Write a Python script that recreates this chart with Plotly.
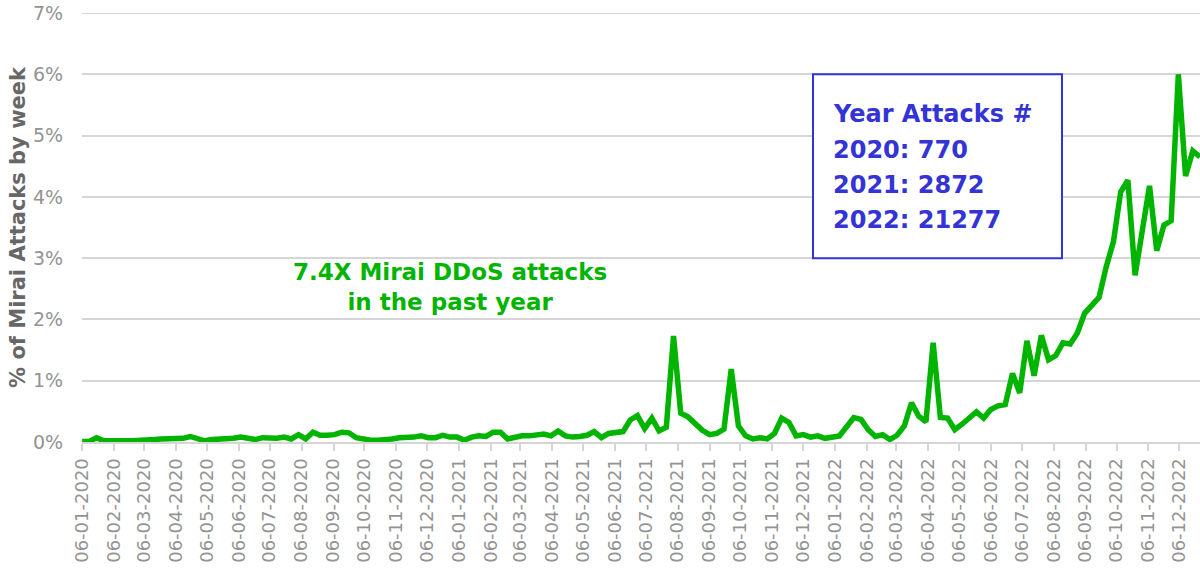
import pandas as pd
import plotly.graph_objects as go

start_date = "2020-01-06"
values = [
    0.01, 0.01, 0.07, 0.02, 0.02, 0.03, 0.02, 0.02, 0.02, 0.02,
    0.04, 0.05, 0.05, 0.05, 0.06, 0.09, 0.05, 0.02, 0.04, 0.04,
    0.06, 0.06, 0.08, 0.07, 0.04, 0.07, 0.06, 0.06, 0.08, 0.05,
    0.12, 0.05, 0.16, 0.11, 0.11, 0.12, 0.16, 0.15, 0.07, 0.04,
    0.03, 0.03, 0.03, 0.05, 0.07, 0.07, 0.08, 0.10, 0.07, 0.07,
    0.11, 0.08, 0.08, 0.03, 0.08, 0.10, 0.09, 0.16, 0.16, 0.05,
    0.08, 0.10, 0.10, 0.11, 0.13, 0.10, 0.18, 0.10, 0.08, 0.09,
    0.11, 0.17, 0.07, 0.14, 0.16, 0.17, 0.36, 0.43, 0.22, 0.39,
    0.18, 0.24, 1.73, 0.47, 0.41, 0.30, 0.19, 0.12, 0.14, 0.21,
    1.19, 0.26, 0.10, 0.05, 0.07, 0.05, 0.14, 0.39, 0.32, 0.10,
    0.12, 0.08, 0.10, 0.06, 0.09, 0.10, 0.25, 0.40, 0.37, 0.20,
    0.09, 0.12, 0.04, 0.11, 0.26, 0.64, 0.42, 0.33, 1.62, 0.40,
    0.39, 0.20, 0.29, 0.39, 0.49, 0.39, 0.53, 0.59, 0.61, 1.12,
    0.80, 1.65, 1.08, 1.74, 1.34, 1.41, 1.62, 1.60, 1.78, 2.10,
    2.23, 2.36, 2.86, 3.27, 4.08, 4.27, 2.72, 3.45, 4.18, 3.12,
    3.54, 3.61, 6.00, 4.34, 4.75, 4.65,
]
weeks = pd.date_range(start_date, periods=len(values), freq="7D")

tick_dates = pd.date_range("2020-01-01", "2022-12-01", freq="MS") + pd.Timedelta(days=5)
tick_labels = [d.strftime("%d-%m-%Y") for d in tick_dates]
y_ticks = [0, 1, 2, 3, 4, 5, 6, 7]
y_labels = [f"{v}%" for v in y_ticks]

annotation_main = "7.4X Mirai DDoS attacks<br>in the past year"
box_lines = ["Year Attacks #", "2020: 770", "2021: 2872", "2022: 21277"]
box_line_y = [5.35, 4.77, 4.19, 3.62]

GREEN = "#00b400"
BLUE = "#3333d6"
GRID = "#d6d6d6"
TICK = "#939393"
FONT = "DejaVu Sans"

# plot area at x 82..1200, y 13..442 (body margin removed below)
L, T, R, B = 82, 13, 0, 129
PW = 1200 - L - R

fig = go.Figure()
fig.add_trace(go.Scatter(
    x=weeks, y=values, mode="lines",
    line=dict(color=GREEN, width=5.5),
    hoverinfo="skip",
))

fig.update_layout(
    width=1200, height=571,
    margin=dict(l=L, r=R, t=T, b=B),
    paper_bgcolor="white", plot_bgcolor="white",
    showlegend=False,
    font=dict(family=FONT, color=TICK),
)
fig.update_xaxes(
    type="date",
    range=[weeks[0] - pd.Timedelta(hours=3), weeks[-1]],
    tickvals=list(tick_dates), ticktext=tick_labels,
    tickangle=-90,
    tickfont=dict(size=18, color=TICK, family=FONT),
    ticks="outside", ticklen=7, tickwidth=2, tickcolor=GRID,
    showgrid=False,
    showline=True, linecolor=GRID, linewidth=2,
    zeroline=False,
    automargin=False,
    ticklabeloverflow="allow",
)
fig.update_yaxes(
    range=[0, 7],
    tickvals=y_ticks, ticktext=y_labels,
    tickfont=dict(size=19, color=TICK, family=FONT),
    ticks="outside", ticklen=14, tickcolor="rgba(0,0,0,0)",
    showgrid=True, gridcolor=GRID, gridwidth=2,
    zeroline=False,
    automargin=False,
    ticklabeloverflow="allow",
    title=dict(text="<b>% of Mirai Attacks by week</b>",
               font=dict(size=21, color="#676767", family=FONT),
               standoff=1),
)

# top gridline at the upper edge of the range
fig.add_shape(
    type="line", xref="paper", yref="y",
    x0=0, x1=1, y0=y_ticks[-1], y1=y_ticks[-1],
    line=dict(color=GRID, width=2), layer="below",
)

fig.add_annotation(
    xref="paper", yref="y",
    x=(450 - 82) / PW, y=2.53,
    text=f"<b>{annotation_main}</b>",
    showarrow=False, align="center",
    font=dict(size=23, color=GREEN, family=FONT),
    xanchor="center", yanchor="middle",
)

fig.add_shape(
    type="rect", xref="paper", yref="y",
    x0=(813 - 82) / PW, x1=(1062 - 82) / PW, y0=3, y1=6,
    line=dict(color=BLUE, width=2), fillcolor="white", layer="above",
)
for txt, yy in zip(box_lines, box_line_y):
    fig.add_annotation(
        xref="paper", yref="y",
        x=(831 - 82) / PW, y=yy,
        text=f"<b>{txt}</b>",
        showarrow=False, align="left",
        font=dict(size=24, color=BLUE, family=FONT),
        xanchor="left", yanchor="middle",
    )

fig.write_html(
    "out.html",
    config={"displayModeBar": False},
    post_script="document.body.style.margin='0px';",
)
